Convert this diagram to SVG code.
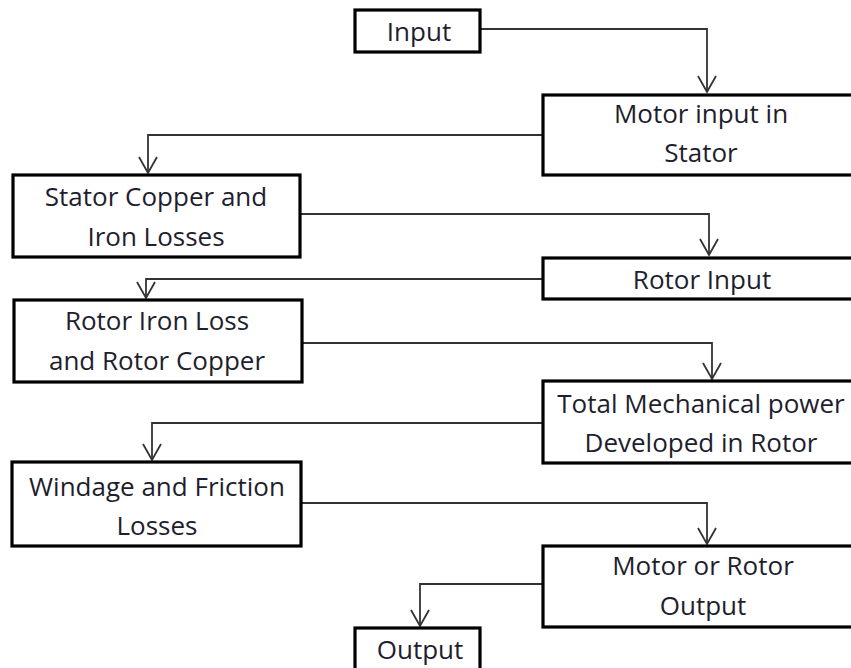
<svg xmlns="http://www.w3.org/2000/svg" width="851" height="668" viewBox="0 0 851 668">
<style>
.box{fill:#fff;stroke:#000;stroke-width:3.2}
.lbl{font-family:"Open Sans","Liberation Sans",sans-serif;font-size:26px;fill:#1e1e2e;text-anchor:middle}
.conn{fill:none;stroke:#333;stroke-width:1.8}
</style>
<defs>
<marker id="arr" markerUnits="userSpaceOnUse" markerWidth="22" markerHeight="24" viewBox="-19 -12 22 24" refX="0" refY="0" orient="auto">
<path d="M-16,-9 L0,0 L-16,9" fill="none" stroke="#333" stroke-width="1.8"/>
</marker>
</defs>
<rect width="851" height="668" fill="#fff"/>
<g id="connectors">
<path class="conn" d="M480,29 H707 V92" marker-end="url(#arr)"/>
<path class="conn" d="M543,135 H148 V173" marker-end="url(#arr)"/>
<path class="conn" d="M300,214 H709 V255" marker-end="url(#arr)"/>
<path class="conn" d="M543,279 H146 V298" marker-end="url(#arr)"/>
<path class="conn" d="M302,343 H712 V379" marker-end="url(#arr)"/>
<path class="conn" d="M543,423 H152 V460" marker-end="url(#arr)"/>
<path class="conn" d="M301,503 H707 V544" marker-end="url(#arr)"/>
<path class="conn" d="M543,584 H420 V626" marker-end="url(#arr)"/>
</g>
<g id="input"><rect class="box" x="355" y="10" width="125" height="42"/><text class="lbl" x="419" y="41">Input</text></g>
<g id="motor-input"><rect class="box" x="543" y="95" width="320" height="80"/><text class="lbl" x="701" y="123">Motor input in</text><text class="lbl" x="701" y="162">Stator</text></g>
<g id="stator-losses"><rect class="box" x="13" y="175" width="287" height="82"/><text class="lbl" x="156" y="206">Stator Copper and</text><text class="lbl" x="156" y="246">Iron Losses</text></g>
<g id="rotor-input"><rect class="box" x="543" y="258" width="320" height="41"/><text class="lbl" x="702" y="289">Rotor Input</text></g>
<g id="rotor-losses"><rect class="box" x="14" y="300" width="288" height="82"/><text class="lbl" x="157" y="330">Rotor Iron Loss</text><text class="lbl" x="157" y="370">and Rotor Copper</text></g>
<g id="mech-power"><rect class="box" x="543" y="381" width="320" height="82"/><text class="lbl" x="701" y="413">Total Mechanical power</text><text class="lbl" x="701" y="452">Developed in Rotor</text></g>
<g id="windage"><rect class="box" x="12" y="462" width="289" height="84"/><text class="lbl" x="157" y="496">Windage and Friction</text><text class="lbl" x="157" y="535">Losses</text></g>
<g id="motor-output"><rect class="box" x="543" y="546" width="320" height="81"/><text class="lbl" x="703" y="575">Motor or Rotor</text><text class="lbl" x="703" y="615">Output</text></g>
<g id="output"><rect class="box" x="355" y="628" width="125" height="50"/><text class="lbl" x="420" y="659">Output</text></g>
</svg>
